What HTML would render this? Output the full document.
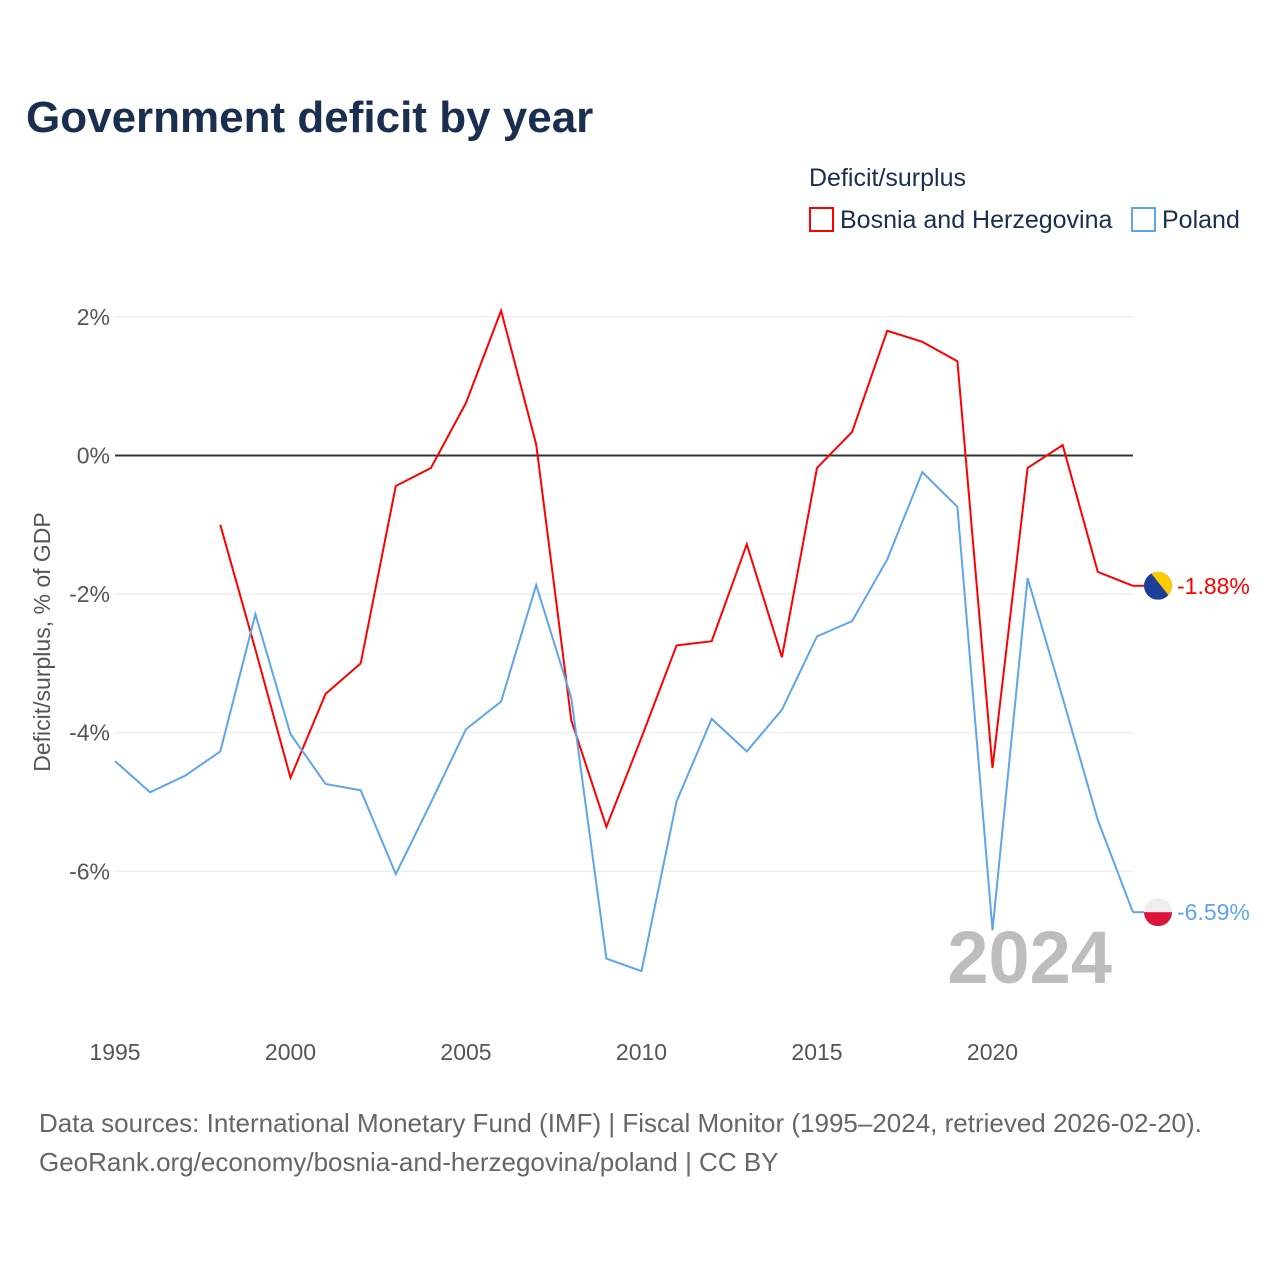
<!DOCTYPE html>
<html><head><meta charset="utf-8"><style>
body{margin:0;background:#fff;font-family:"Liberation Sans",sans-serif}
#c{position:relative;width:1280px;height:1280px}
</style></head><body><div id="c">
<svg id="s" width="1280" height="1280" xmlns="http://www.w3.org/2000/svg">
<text x="26" y="132" font-size="44" font-weight="bold" fill="#1a2e4f">Government deficit by year</text>
<text x="809" y="186" font-size="25" fill="#1a2e4f">Deficit/surplus</text>
<g><rect x="810" y="208" width="23" height="23" fill="none" stroke="#ff0000" stroke-width="2"/><text x="840" y="228" font-size="25" fill="#1a2e4f">Bosnia and Herzegovina</text></g>
<g><rect x="1132" y="208" width="23" height="23" fill="none" stroke="#5ea5ea" stroke-width="2"/><text x="1162" y="228" font-size="25" fill="#1a2e4f">Poland</text></g>
<g id="grid"></g><g id="xt"></g><g id="series"></g>
<text x="1112" y="983" font-size="74" font-weight="bold" fill="#bdbdbd" text-anchor="end">2024</text>
<text transform="translate(50,642) rotate(-90)" font-size="23" fill="#555" text-anchor="middle">Deficit/surplus, % of GDP</text>
<text x="39" y="1132" font-size="26" fill="#666">Data sources: International Monetary Fund (IMF) | Fiscal Monitor (1995–2024, retrieved 2026-02-20).</text>
<text x="39" y="1171" font-size="26" fill="#666">GeoRank.org/economy/bosnia-and-herzegovina/poland | CC BY</text>
</svg></div>
<script>
const years=[];for(let y=1995;y<=2024;y++)years.push(y);
const yTicks=[2,0,-2,-4,-6];
const xTicks=[1995,2000,2005,2010,2015,2020];
const bosnia=[null,null,null,-1.0,-2.8,-4.65,-3.44,-3.0,-0.44,-0.18,0.76,2.09,0.16,-3.82,-5.36,-4.07,-2.74,-2.68,-1.28,-2.91,-0.18,0.34,1.80,1.64,1.36,-4.51,-0.18,0.15,-1.68,-1.88];
const poland=[-4.41,-4.86,-4.62,-4.27,-2.29,-4.02,-4.74,-4.83,-6.04,-5.01,-3.95,-3.55,-1.87,-3.5,-7.26,-7.44,-4.99,-3.80,-4.27,-3.67,-2.61,-2.39,-1.50,-0.24,-0.74,-6.85,-1.77,-3.50,-5.26,-6.59];
const X=y=>115+(y-1995)*35.1, Y=v=>455.5-v*69.3;
const NS="http://www.w3.org/2000/svg";
function mk(t,a,p){const e=document.createElementNS(NS,t);for(const k in a)e.setAttribute(k,a[k]);document.getElementById(p).appendChild(e);return e;}
yTicks.forEach(v=>{
 const l=mk('line',{x1:115,x2:1133,y1:Y(v),y2:Y(v),stroke:v===0?'#333':'#e8e8e8','stroke-width':v===0?2:1},'grid');
 
 
 const t=mk('text',{x:110,y:Y(v)+8,'font-size':23,fill:'#555','text-anchor':'end'},'grid');t.textContent=v+'%';
 
 
});
xTicks.forEach(v=>{
 const t=mk('text',{x:X(v),y:1060,'font-size':23,fill:'#555','text-anchor':'middle'},'xt');t.textContent=v;
 
 
});
function line(d,c,name){
 let p='';d.forEach((v,i)=>{if(v==null)return;p+=(p?'L':'M')+X(years[i])+','+Y(v);});
 const e=mk('path',{d:p,fill:'none',stroke:c,'stroke-width':2},'series');
 
 
 const last=d[d.length-1],ly=Y(last);
 const t=mk('text',{x:1177,y:ly+8,'font-size':23,fill:c},'series');t.textContent=last.toFixed(2)+'%';
 
 
 mk('line',{x1:X(2024),x2:1145,y1:ly,y2:ly,stroke:c,'stroke-width':2},'series');
 return ly;
}
const by=line(bosnia,'#ff0000','line-bosnia');
const py=line(poland,'#5ea5ea','line-poland');
let g=mk('g',{},'series');
g.innerHTML=`<clipPath id="cb"><circle cx="1158" cy="${by}" r="14"/></clipPath><g clip-path="url(#cb)"><rect x="1144" y="${by-14}" width="28" height="28" fill="#1d3f9a"/><polygon points="1150,${by-14} 1172,${by-14} 1172,${by+14}" fill="#fecb00"/></g>`;
g=mk('g',{},'series');
g.innerHTML=`<clipPath id="cp"><circle cx="1158" cy="${py}" r="14"/></clipPath><g clip-path="url(#cp)"><rect x="1144" y="${py-14}" width="28" height="14" fill="#eee"/><rect x="1144" y="${py}" width="28" height="14" fill="#dc143c"/></g>`;
</script></body></html>
